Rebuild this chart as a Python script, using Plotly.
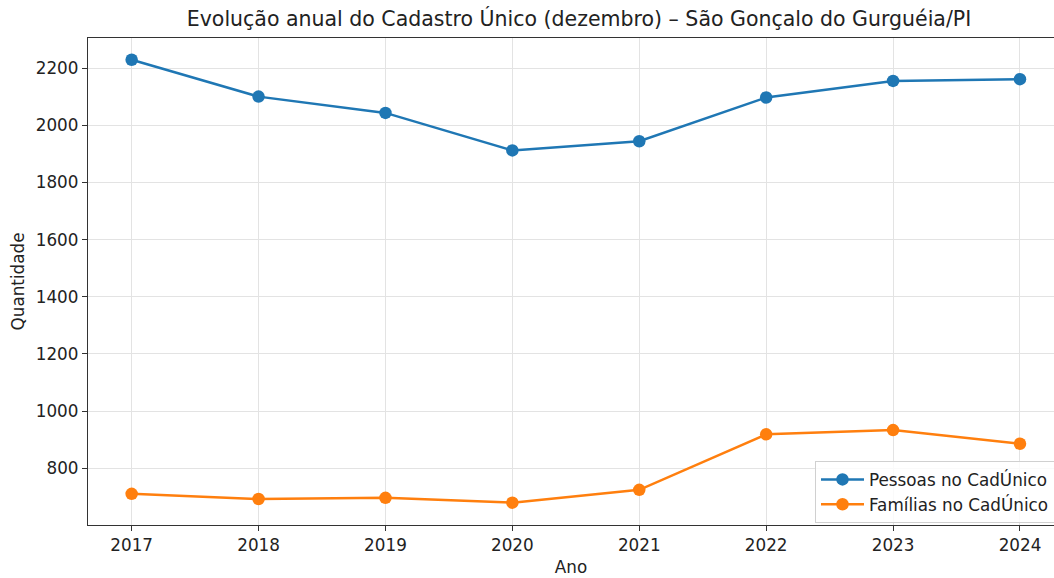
import plotly.graph_objects as go

anos = [2017, 2018, 2019, 2020, 2021, 2022, 2023, 2024]
pessoas = [2229, 2100, 2043, 1912, 1944, 2097, 2155, 2161]
familias = [711, 693, 697, 680, 725, 919, 934, 886]
y_ticks = [800, 1000, 1200, 1400, 1600, 1800, 2000, 2200]

FONT = "DejaVu Sans"
W, H = 1054, 578
L, T, B = 88, 38, 53
PW, PH = W - L, H - T - B
FS = 16.8

fig = go.Figure()
fig.add_trace(go.Scatter(x=anos, y=pessoas, mode="lines+markers", name="Pessoas no CadÚnico",
                         line=dict(color="#1f77b4", width=2.5), marker=dict(size=12.5, color="#1f77b4")))
fig.add_trace(go.Scatter(x=anos, y=familias, mode="lines+markers", name="Famílias no CadÚnico",
                         line=dict(color="#ff7f0e", width=2.5), marker=dict(size=12.5, color="#ff7f0e")))

fig.update_layout(
    width=W, height=H,
    margin=dict(l=L, r=0, t=T, b=B, autoexpand=False),
    paper_bgcolor="white", plot_bgcolor="white",
    font=dict(family=FONT, size=FS, color="#222222"),
    title=dict(text="Evolução anual do Cadastro Único (dezembro) – São Gonçalo do Gurguéia/PI",
               x=579/W, xref="container", xanchor="center",
               y=1 - 19/H, yref="container", yanchor="middle",
               font=dict(family=FONT, size=20.5, color="#222222")),
    legend=dict(x=(815-88)/PW, xanchor="left", y=(525-461)/PH, yanchor="top",
                bgcolor="rgba(255,255,255,0.8)", bordercolor="#d0d0d0", borderwidth=1,
                itemwidth=43,
                font=dict(family=FONT, size=FS, color="#222222"), tracegroupgap=0),
    showlegend=True,
)
fig.update_xaxes(range=[2016.656, 2024.268], tickvals=anos, ticktext=[str(a) for a in anos],
                 showgrid=True, gridcolor="#e3e3e3", gridwidth=1.2,
                 showline=True, linecolor="#333333", linewidth=1.3, mirror=True,
                 ticks="outside", ticklen=5, tickcolor="#333333", tickwidth=1.3,
                 zeroline=False, tickfont=dict(size=FS),
                 title=dict(text="Ano", standoff=6, font=dict(family=FONT, size=FS, color="#222222")))
fig.update_yaxes(range=[602, 2305], tickvals=y_ticks,
                 showgrid=True, gridcolor="#e3e3e3", gridwidth=1.2,
                 showline=True, linecolor="#333333", linewidth=1.3, mirror=False,
                 ticks="outside", ticklen=5, tickcolor="#333333", tickwidth=1.3,
                 zeroline=False, tickfont=dict(size=FS),
                 title=dict(text="Quantidade", standoff=6, font=dict(family=FONT, size=FS, color="#222222")))

fig.write_html("out.html", config={"displayModeBar": False},
               post_script="document.body.style.margin='0';document.body.style.overflow='hidden';")
